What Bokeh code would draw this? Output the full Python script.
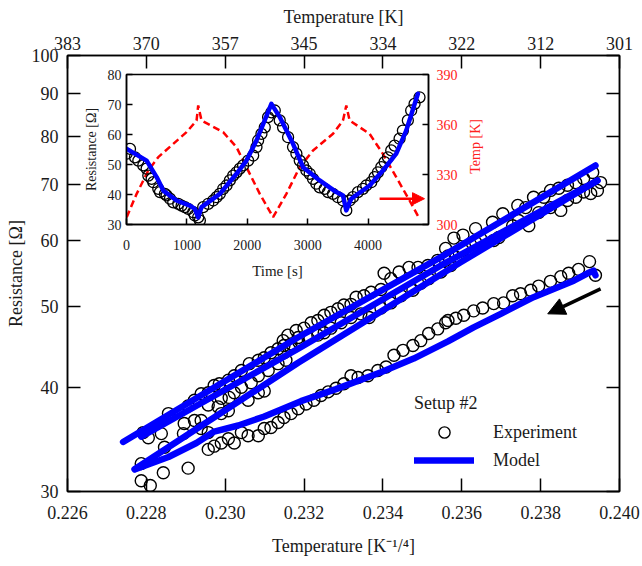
import math
from bokeh.plotting import figure
from bokeh.models import (FixedTicker, LinearAxis, LogAxis, Range1d, Legend, LegendItem,
                          Arrow, NormalHead, PrintfTickFormatter, Label)
from bokeh.embed import file_html
from bokeh.resources import INLINE

FONT = "Liberation Serif"
TXT = "#1a1a1a"

# ---------------- main plot data ----------------
x_ticks = [0.226, 0.228, 0.230, 0.232, 0.234, 0.236, 0.238, 0.240]
top_tick_labels = ["383", "370", "357", "345", "334", "322", "312", "301"]
y_ticks = [30, 40, 50, 60, 70, 80, 90, 100]

exp_x = [
    # first heating branch (lower)
    0.23939, 0.23924, 0.23896, 0.23871, 0.23851, 0.23825, 0.23795, 0.23775, 0.23749, 0.23729,
    0.23706, 0.23681, 0.23653, 0.23630, 0.23605, 0.23585, 0.23565, 0.23559, 0.23539, 0.23516,
    0.23496, 0.23476, 0.23451, 0.23428, 0.23408, 0.23387, 0.23362, 0.23337, 0.23319, 0.23301,
    0.23281, 0.23261, 0.23243, 0.23225, 0.23205, 0.23185, 0.23167, 0.23149, 0.23134, 0.23116,
    0.23099, 0.23084, 0.23058, 0.23041, 0.23023, 0.23008, 0.22990, 0.22972, 0.22957, 0.22906,
    0.22843, 0.22810, 0.22787,
    # upper band
    0.23932, 0.23909, 0.23889, 0.23868, 0.23846, 0.23825, 0.23808, 0.23782, 0.23762, 0.23742,
    0.23704, 0.23678, 0.23635, 0.23603, 0.23580, 0.23559, 0.23565, 0.23539, 0.23514, 0.23489,
    0.23466, 0.23441, 0.23420, 0.23403, 0.23395, 0.23370, 0.23352, 0.23332, 0.23319, 0.23301,
    0.23286, 0.23268, 0.23251, 0.23235, 0.23218, 0.23200, 0.23180, 0.23159, 0.23147, 0.23185,
    0.23167, 0.23149, 0.23134, 0.23116, 0.23099, 0.23084, 0.23061, 0.23041, 0.23023, 0.23008,
    0.22985, 0.22972, 0.22957, 0.22939, 0.22922, 0.22906, 0.22856, 0.22792, 0.22805,
    # second band
    0.23952, 0.23944, 0.23927, 0.23909, 0.23889, 0.23868, 0.23851, 0.23825, 0.23795, 0.23770,
    0.23744, 0.23729, 0.23694, 0.23681, 0.23648, 0.23635, 0.23603, 0.23585, 0.23559, 0.23572,
    0.23547, 0.23516, 0.23496, 0.23476, 0.23446, 0.23420, 0.23395, 0.23365, 0.23344, 0.23319,
    0.23294, 0.23268, 0.23251, 0.23235, 0.23210, 0.23187, 0.23167, 0.23149, 0.23154, 0.23134,
    0.23109, 0.23084, 0.23066, 0.23041, 0.23023, 0.23010, 0.22990, 0.22982, 0.22957, 0.22939,
    0.22922, 0.22896, 0.22894, 0.22846, 0.22787, 0.22838, 0.23084, 0.23099, 0.23058, 0.23008,
    0.22990, 0.22939, 0.22957,
]
exp_R = [
    54.5, 56.6, 55.4, 54.8, 54.3, 53.6, 52.9, 52.3, 51.8, 51.5,
    50.5, 50.4, 49.8, 49.4, 48.8, 48.4, 48.1, 47.8, 47.0, 46.4,
    45.5, 44.9, 44.3, 43.7, 42.3, 41.9, 41.3, 41.1, 41.3, 40.4,
    39.9, 39.5, 39.1, 38.6, 38.2, 37.7, 37.2, 36.8, 36.3, 35.8,
    35.7, 35.0, 35.0, 35.3, 34.3, 34.7, 34.3, 34.0, 33.7, 32.0,
    31.6, 30.5, 30.9,
    72.4, 71.2, 70.4, 69.9, 69.3, 68.9, 67.6, 67.6, 65.7, 66.1,
    64.6, 63.1, 62.0, 60.9, 60.4, 58.7, 57.5, 56.8, 56.0, 55.7,
    55.7, 55.0, 54.0, 54.8, 52.4, 52.0, 51.5, 51.3, 50.3, 50.2,
    49.7, 49.2, 48.8, 48.1, 47.8, 47.1, 46.8, 46.2, 45.5, 45.9,
    45.1, 44.9, 44.5, 44.0, 43.4, 43.1, 42.7, 41.9, 41.3, 40.8,
    40.4, 40.2, 39.4, 39.3, 38.6, 38.0, 37.2, 35.3, 34.8,
    70.4, 68.9, 68.3, 68.6, 67.6, 67.0, 65.2, 65.7, 64.8, 62.5,
    63.4, 62.5, 60.5, 60.0, 60.3, 59.7, 58.4, 57.3, 56.8, 56.0,
    55.0, 54.0, 53.3, 52.3, 51.5, 50.5, 49.8, 48.5, 49.0, 48.5,
    47.8, 47.1, 46.5, 46.2, 45.8, 45.3, 44.6, 44.0, 43.1, 42.7,
    41.9, 41.3, 40.5, 40.0, 39.4, 38.9, 38.8, 37.9, 38.1, 36.5,
    36.5, 36.2, 35.2, 33.9, 32.4, 35.2, 39.4, 39.6, 38.6, 37.5,
    37.2, 35.7, 35.3,
]

# model branches (main plot)
modelA_x = [0.22741, 0.23184, 0.23547, 0.23939]
modelA_R = [34.4, 45.9, 57.3, 73.8]
modelB_x = [0.23944, 0.23547, 0.23185, 0.22787]
modelB_R = [70.8, 56.0, 44.5, 34.9]
modelC_x = [0.22770, 0.23185, 0.23597, 0.23944]
modelC_R = [31.9, 42.8, 56.5, 70.8]
modelH_x = [0.22772, 0.22856, 0.22927, 0.22972, 0.23033, 0.23099, 0.23192, 0.23281, 0.23395,
            0.23478, 0.23565, 0.23630, 0.23699, 0.23782, 0.23884, 0.23919, 0.23934, 0.23939]
modelH_R = [31.9, 33.0, 34.3, 35.4, 36.0, 36.9, 38.5, 39.8, 41.7,
            43.3, 45.4, 47.2, 49.0, 51.3, 53.7, 54.8, 55.2, 54.5]

arrow_main = dict(x_start=0.23952, y_start=52.5, x_end=0.23818, y_end=49.0)

# ---------------- inset data ----------------
ins_t = [58, 3, 140, 196, 278, 333, 361, 416, 444, 526, 554, 636, 664, 719, 774, 857, 912, 967,
         1022, 1105, 1132, 1187, 1215,
         1270, 1353, 1435, 1490, 1545, 1601, 1656, 1711, 1766, 1821, 1876, 1931, 2014, 2097,
         2152, 2179, 2234, 2289, 2344, 2399,
         2455, 2537, 2592, 2675, 2757, 2813, 2868, 2923, 2978, 3033, 3088, 3143, 3198, 3281,
         3336, 3419, 3501, 3584, 3639,
         3694, 3749, 3832, 3915, 3970, 4052, 4107, 4163, 4218, 4273, 4328, 4383, 4438, 4521,
         4576, 4658, 4713, 4769, 4851]
ins_R = [55.2, 53.6, 52.4, 51.3, 49.7, 48.6, 46.3, 45.2, 44.1, 41.9, 40.8, 40.2, 39.7, 38.6,
         37.4, 36.9, 36.3, 35.8, 35.2, 34.1, 33.0, 32.4, 31.3,
         35.8, 36.9, 38.0, 39.1, 40.2, 41.9, 43.0, 44.7, 46.3, 47.4, 48.6, 49.7, 51.3, 53.0,
         55.8, 58.0, 60.2, 62.4, 65.8, 67.4,
         68.0, 64.7, 62.4, 59.1, 55.8, 53.6, 51.3, 49.7, 48.0, 46.9, 45.2, 43.6, 42.4, 41.9,
         40.8, 40.2, 39.1, 38.0, 34.7,
         38.0, 39.1, 40.8, 41.9, 43.0, 44.1, 45.8, 47.4, 49.1, 50.8, 52.4, 54.7, 56.3, 58.6,
         61.3, 64.7, 68.0, 70.2, 72.4]

mod_t = [3, 333, 499, 609, 829, 1050, 1132, 1187, 1242, 1545, 1821, 1986, 2152, 2399, 2537,
         2757, 2923, 3198, 3474, 3584, 3639, 3722, 4025, 4245, 4466, 4631, 4824]
mod_R = [55.2, 51.3, 45.8, 41.3, 38.0, 36.3, 35.2, 32.4, 35.8, 40.2, 46.9, 51.3, 58.0, 70.2, 65.8,
         56.9, 49.1, 44.7, 40.8, 39.7, 34.7, 38.6, 43.0, 48.0, 53.6, 61.3, 73.6]

temp_t = [3, 168, 361, 526, 774, 994, 1160, 1187, 1242, 1600, 1821, 1986, 2207, 2427, 2647, 2868,
          3088, 3419, 3584, 3639, 3694, 4025, 4245, 4466, 4686, 4851]
temp_K = [304.4, 318.4, 332.4, 340.4, 348.4, 355.4, 362.4, 371.4, 362.4, 355.4, 346.4, 334.4,
          318.4, 304.4, 318.4, 334.4, 344.4, 354.4, 362.4, 371.4, 362.4, 354.4, 342.4, 328.4,
          314.4, 303.4]
temp_ticks = [300, 330, 360, 390]
arrow_inset = dict(x_start=4190, y_start=38.6, x_end=4934, y_end=38.6)
temp_title_pos = dict(x=0.23635, y=77.8)   # where the red inset axis title sits (main-plot units)


def style_axis(ax, size, tick_in, standoff, label_standoff, label_size):
    ax.major_tick_in = tick_in
    ax.major_tick_out = 0
    ax.minor_tick_in = 0
    ax.minor_tick_out = 0
    ax.major_tick_line_color = "black"
    ax.major_tick_line_width = 1.5
    ax.axis_line_color = "black"
    ax.axis_line_width = 1.5
    ax.major_label_text_font = FONT
    ax.major_label_text_font_size = size
    ax.major_label_text_color = TXT
    ax.major_label_standoff = standoff
    ax.axis_label_text_font = FONT
    ax.axis_label_text_font_size = label_size
    ax.axis_label_text_font_style = "normal"
    ax.axis_label_text_color = TXT
    ax.axis_label_standoff = label_standoff


# ---------------- main figure ----------------
p = figure(width=642, height=566, x_range=Range1d(0.226, 0.240), y_range=Range1d(30, 100),
           y_axis_type="log", output_backend="svg", toolbar_location=None,
           min_border_left=67, min_border_right=23, min_border_top=55, min_border_bottom=75,
           x_axis_label="Temperature [K\u207b\u00b9/\u2074]", y_axis_label="Resistance [\u03a9]")
p.grid.visible = False
p.outline_line_color = "black"
p.outline_line_width = 1.5
p.background_fill_color = "white"
p.border_fill_color = "white"

xb = p.xaxis[0]
xb.ticker = FixedTicker(ticks=x_ticks)
xb.formatter = PrintfTickFormatter(format="%.3f")
style_axis(xb, "18px", 13, 14, 14, "18px")

yl = p.yaxis[0]
yl.ticker = FixedTicker(ticks=y_ticks)
yl.formatter = PrintfTickFormatter(format="%d")
style_axis(yl, "18px", 13, 9, 3, "18px")

xt = LinearAxis(ticker=FixedTicker(ticks=x_ticks),
                major_label_overrides={t: l for t, l in zip(x_ticks, top_tick_labels)},
                axis_label="Temperature [K]")
style_axis(xt, "18px", 13, 6, 7, "18px")
p.add_layout(xt, "above")

yr = LogAxis(ticker=FixedTicker(ticks=y_ticks),
             major_label_overrides={t: "" for t in y_ticks})
style_axis(yr, "18px", 13, 0, 0, "18px")
p.add_layout(yr, "right")

circ = p.scatter(exp_x, exp_R, size=12, marker="circle", fill_color=None,
                 line_color="black", line_width=1.4)
mline = None
for xs, rs in [(modelH_x, modelH_R), (modelC_x, modelC_R), (modelB_x, modelB_R), (modelA_x, modelA_R)]:
    r = p.line(xs, rs, line_color="#0000ff", line_width=6.5, line_cap="round", line_join="round")
    if mline is None:
        mline = r

p.add_layout(Arrow(end=NormalHead(size=17, fill_color="black", line_color="black"),
                   line_color="black", line_width=3.5, **arrow_main))

legend = Legend(items=[LegendItem(label="Experiment", renderers=[circ]),
                       LegendItem(label="Model", renderers=[mline])],
                title="Setup #2", location=(347, 17),
                border_line_color=None, background_fill_alpha=0,
                label_text_font=FONT, label_text_font_size="18px", label_text_color=TXT,
                title_text_font=FONT, title_text_font_size="18px", title_text_color=TXT,
                title_text_font_style="normal", title_standoff=4,
                glyph_width=60, glyph_height=28, label_standoff=19, spacing=0,
                padding=0, margin=0)
p.add_layout(legend)

# red title of the inset's temperature axis (drawn under the transparent inset border)
p.add_layout(Label(text="Temp [K]", angle=math.pi / 2, text_align="center", text_baseline="middle",
                   text_font=FONT, text_font_size="14px", text_color="#ff2020", **temp_title_pos))

# ---------------- inset figure ----------------
q = figure(width=440, height=232, x_range=Range1d(0, 5000), y_range=Range1d(30, 80),
           output_backend="svg", toolbar_location=None,
           min_border_left=66, min_border_right=72, min_border_top=14, min_border_bottom=68,
           x_axis_label="Time [s]", y_axis_label="Resistance [\u03a9]")
q.extra_y_ranges = {"temp": Range1d(300, 390)}
q.grid.visible = False
q.outline_line_color = "black"
q.outline_line_width = 1.5
q.background_fill_color = "white"
q.border_fill_color = None
q.border_fill_alpha = 0

qx = q.xaxis[0]
qx.ticker = FixedTicker(ticks=[0, 1000, 2000, 3000, 4000])
style_axis(qx, "14px", 6, 15, 10, "15px")
qy = q.yaxis[0]
qy.ticker = FixedTicker(ticks=[30, 40, 50, 60, 70, 80])
style_axis(qy, "14px", 6, 5, 6, "14px")
qr = LinearAxis(y_range_name="temp", ticker=FixedTicker(ticks=temp_ticks))
style_axis(qr, "14px", 6, 8, 8, "14px")
qr.major_label_text_color = "#ff2020"
q.add_layout(qr, "right")

q.line(temp_t, temp_K, y_range_name="temp", line_color="#ff0000", line_width=2.5, line_dash="7 4")
q.scatter(ins_t, ins_R, size=11, marker="circle", fill_color=None, line_color="black", line_width=1.3)
q.line(mod_t, mod_R, line_color="#0000ff", line_width=4.5, line_join="round", line_cap="round")
q.add_layout(Arrow(end=NormalHead(size=12, fill_color="#ff0000", line_color="#ff0000"),
                   line_color="#ff0000", line_width=2.5, **arrow_inset))

# inset is a second root, floated over the main figure
q.styles = {"position": "absolute", "left": "60px", "top": "60px", "z-index": "10"}

open("out.html", "w").write(file_html([p, q], INLINE))
